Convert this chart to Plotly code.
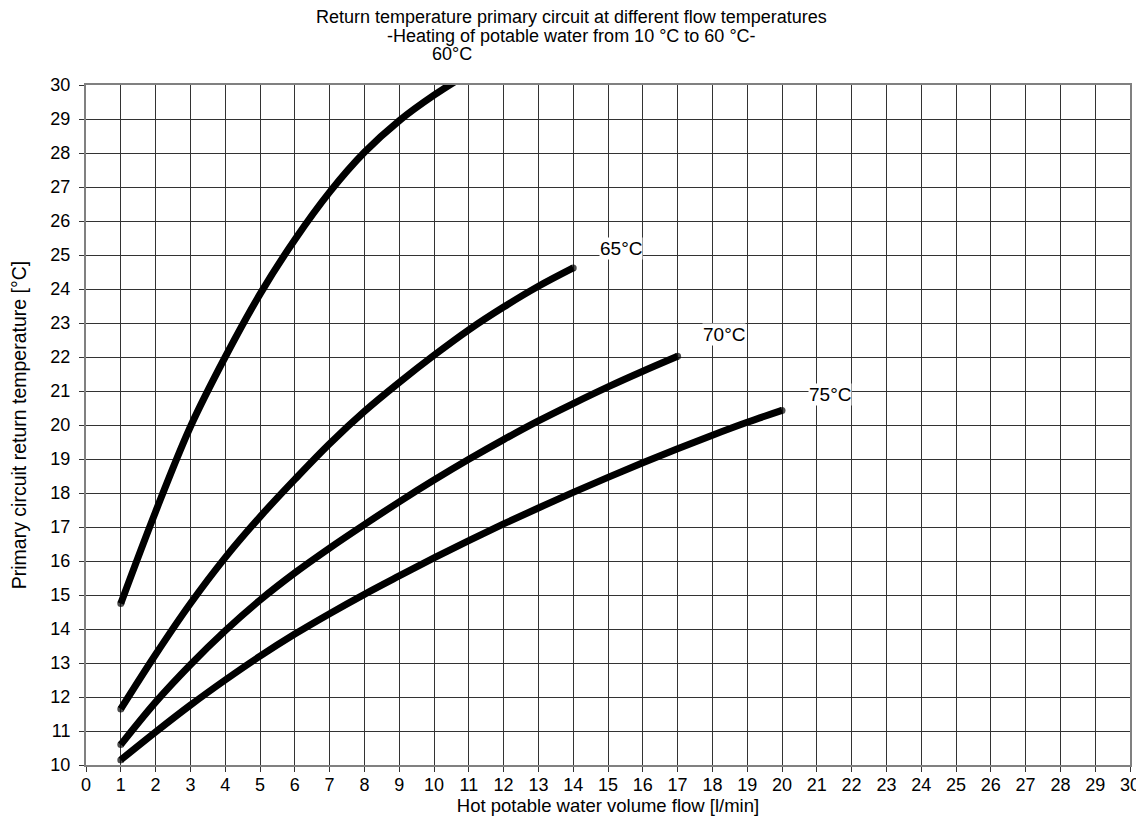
import plotly.graph_objects as go

# Data
flow_60 = [1, 2, 3, 4, 5, 6, 7, 8, 9, 10, 11]
ret_60 = [14.75, 17.45, 19.95, 22.0, 23.85, 25.45, 26.85, 28.02, 28.95, 29.7, 30.35]

flow_65 = [1, 2, 3, 4, 5, 6, 7, 8, 9, 10, 11, 12, 13, 14]
ret_65 = [11.65, 13.25, 14.75, 16.1, 17.3, 18.4, 19.45, 20.4, 21.25, 22.05, 22.8, 23.47, 24.08, 24.62]

flow_70 = [1, 2, 3, 4, 5, 6, 7, 8, 9, 10, 11, 12, 13, 14, 15, 16, 17]
ret_70 = [10.6, 11.85, 12.95, 13.95, 14.85, 15.65, 16.38, 17.07, 17.74, 18.38, 18.99, 19.57, 20.12, 20.63, 21.12, 21.58, 22.02]

flow_75 = [1, 2, 3, 4, 5, 6, 7, 8, 9, 10, 11, 12, 13, 14, 15, 16, 17, 18, 19, 20]
ret_75 = [10.15, 10.97, 11.76, 12.5, 13.2, 13.85, 14.45, 15.02, 15.56, 16.09, 16.6, 17.09, 17.56, 18.02, 18.46, 18.89, 19.3, 19.7, 20.08, 20.43]

series = [
    ("60°C", flow_60, ret_60),
    ("65°C", flow_65, ret_65),
    ("70°C", flow_70, ret_70),
    ("75°C", flow_75, ret_75),
]

# curve labels inside the plot (data coordinates)
label_text = ["65°C", "70°C", "75°C"]
label_x = [15.38, 18.32, 21.38]
label_y = [25.2, 22.66, 20.9]

# 60°C label sits above the plot area
top_label_text = "60°C"
top_label_x = 10.52

title_lines = [
    "Return temperature primary circuit at different flow temperatures",
    "-Heating of potable water from 10 °C to 60 °C-",
]

x_ticks = list(range(0, 31))
y_ticks = list(range(10, 31))

FONT = "Liberation Sans, Arial, sans-serif"

fig = go.Figure()
for name, xs, ys in series:
    sizes = [0] * len(xs)
    sizes[0] = 7
    if ys[-1] <= 30:
        sizes[-1] = 7
    fig.add_trace(go.Scatter(
        x=xs, y=ys, name=name, mode="lines+markers",
        line=dict(color="black", width=7, shape="spline", smoothing=1.0),
        marker=dict(size=sizes, color="black", line=dict(width=0)),
        showlegend=False, hoverinfo="x+y",
    ))

for t, lx, ly in zip(label_text, label_x, label_y):
    fig.add_annotation(
        x=lx, y=ly, xref="x", yref="y", text=t, showarrow=False,
        font=dict(family=FONT, size=19, color="black"),
        bgcolor="white", borderpad=0,
    )

fig.add_annotation(
    x=top_label_x, y=1.0456, xref="x", yref="paper", text=top_label_text,
    showarrow=False, yanchor="middle",
    font=dict(family=FONT, size=18, color="black"),
)

for i, line in enumerate(title_lines):
    fig.add_annotation(
        x=0.4655, y=[1.1, 1.072][i], xref="paper", yref="paper", text=line,
        showarrow=False, yanchor="middle", xanchor="center",
        font=dict(family=FONT, size=18, color="black"),
    )

# page body keeps an 8 px margin, so the figure is drawn 8 px smaller
fig.update_layout(
    width=1136, height=830,
    margin=dict(l=78, r=14, t=77, b=73, autoexpand=False),
    paper_bgcolor="white", plot_bgcolor="white",
    font=dict(family=FONT, size=18, color="black"),
)

fig.update_xaxes(
    range=[0, 30], tickmode="array", tickvals=x_ticks,
    ticktext=[str(v) for v in x_ticks],
    showgrid=True, gridcolor="#333333", gridwidth=1,
    showline=True, linecolor="#808080", linewidth=2, mirror=True,
    ticks="outside", ticklen=5, tickcolor="#333333",
    ticklabelstandoff=-3,
    zeroline=False, automargin=False,
    title=dict(text="Hot potable water volume flow [l/min]", standoff=4,
               font=dict(family=FONT, size=18.5)),
    tickfont=dict(family=FONT, size=18),
)
fig.update_yaxes(
    range=[10, 30], tickmode="array", tickvals=y_ticks,
    ticktext=[str(v) for v in y_ticks],
    showgrid=True, gridcolor="#333333", gridwidth=1,
    showline=True, linecolor="#808080", linewidth=2, mirror=True,
    ticks="outside", ticklen=5, tickcolor="#333333",
    ticklabelstandoff=5,
    zeroline=False, automargin=False,
    title=dict(text="Primary circuit return temperature [°C]", standoff=21,
               font=dict(family=FONT, size=19.5)),
    tickfont=dict(family=FONT, size=18),
)

fig.write_html("out.html")
